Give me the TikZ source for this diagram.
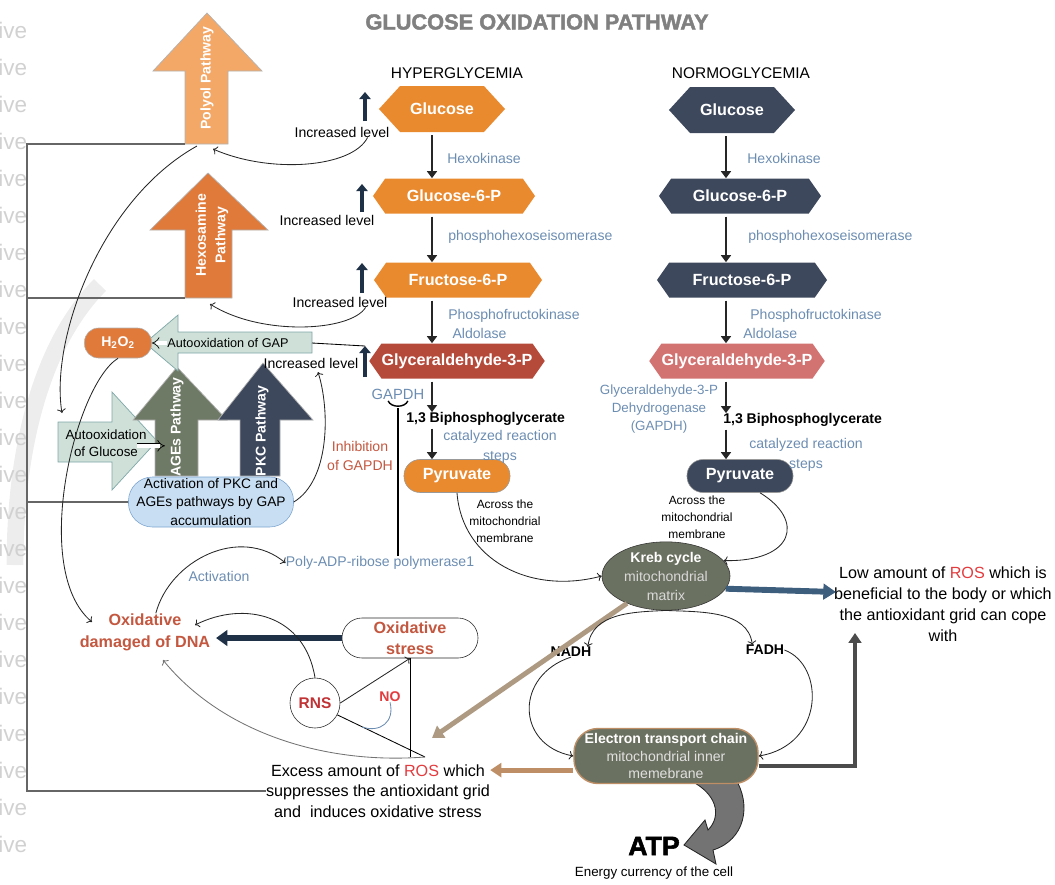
\documentclass[tikz,border=0pt]{standalone}
\usepackage{fontspec}
\setmainfont{Liberation Sans}
\newfontfamily\heavyfont[FakeBold=2]{Liberation Sans Bold}
\usetikzlibrary{shapes.geometric,shapes.symbols,arrows.meta,positioning}
\definecolor{hyorange}{HTML}{E98A2F}
\definecolor{hyred}{HTML}{B54A3B}
\definecolor{noslate}{HTML}{3D485C}
\definecolor{nopink}{HTML}{D27271}
\definecolor{enzblue}{HTML}{6C8DB2}
\definecolor{dnared}{HTML}{C4573F}
\definecolor{rosred}{HTML}{E33B3E}
\definecolor{polyolc}{HTML}{F3A867}
\definecolor{hexoc}{HTML}{E07A3B}
\definecolor{agesc}{HTML}{6E7A66}
\definecolor{autoc}{HTML}{CEE0D7}
\definecolor{autoline}{HTML}{7FA7A8}
\definecolor{actblue}{HTML}{C8DEF3}
\definecolor{actline}{HTML}{7BA3CF}
\definecolor{mitoc}{HTML}{6B7160}
\definecolor{navyc}{HTML}{1E3146}
\definecolor{steelc}{HTML}{3E5E7E}
\definecolor{tanc}{HTML}{BE8F66}
\definecolor{taupec}{HTML}{AE9A82}
\begin{document}
\begin{tikzpicture}[x=0.025cm,y=-0.025cm,
font=\fontsize{10}{12}\selectfont,
% metabolite boxes
hyper/.style={
signal,signal to=west and east,signal pointer angle=110,
fill=hyorange,text=white,inner sep=0pt,
minimum width=4.05cm,minimum height=0.875cm,
font=\fontsize{11.5}{13}\selectfont\bfseries
},
normo/.style={hyper,fill=noslate},
hexbox/.style={minimum width=3.15cm,minimum height=1.15cm,signal pointer angle=95},
pyrbox/.style={
rectangle,rounded corners=0.4cm,draw=black!40,inner sep=0pt,
minimum width=2.65cm,minimum height=0.825cm,text=white,
font=\fontsize{11.5}{13}\selectfont\bfseries
},
enzyme/.style={text=enzblue,inner sep=0pt},
bold/.style={font=\fontsize{10}{12}\selectfont\bfseries,inner sep=0pt},
flow/.style={line width=2pt,black!85,-{Triangle[width=7pt,length=5pt]},shorten <=2pt},
incr/.style={line width=2.6pt,navyc,-{Triangle[width=8pt,length=5pt]}},
link/.style={->,line width=0.6pt,black!85},
bus/.style={line width=1pt,black!60},
blockarrow/.style={draw=black!30,line width=0.5pt},
pathtext/.style={rotate=90,text=white,align=center,inner sep=0pt,
font=\fontsize{10}{14}\selectfont\bfseries},
whitearrow/.style={double=white,double distance=2.4pt,line width=0.5pt,-{Implies}},
bignote/.style={align=center,inner sep=0pt,font=\fontsize{11.5}{15}\selectfont}
]
\useasboundingbox (0,0) rectangle (1055,884);
% watermark
\draw[black!7,line width=12pt] (100,285) .. controls (45,340) and (15,440) .. (15,565);
\foreach \wy in {30,67,...,880}
  \node[anchor=west,text=black!18,inner sep=0pt,font=\fontsize{16}{16}\selectfont] (wm\wy) at (-2,\wy) {ive};

\node[font=\fontsize{15.5}{18}\selectfont\heavyfont,text=black!50] (title) at (537,22) {GLUCOSE OXIDATION PATHWAY};
\node[font=\fontsize{11}{13}\selectfont] (hyhead) at (457,73) {HYPERGLYCEMIA};
\node[font=\fontsize{11}{13}\selectfont] (nohead) at (741,73) {NORMOGLYCEMIA};

% hyperglycemia column
\coordinate (hcol) at (432,0);
\node[hyper,hexbox] (hglc) at (442,109) {Glucose};
\node[hyper] (hg6p) at (454,196) {Glucose-6-P};
\node[hyper,minimum width=4.2cm] (hf6p) at (458,280) {Fructose-6-P};
\node[hyper,fill=hyred,minimum width=4.2cm] (hgap) at (457,361) {Glyceraldehyde-3-P};
\node[bold,anchor=west] (hbpg) at (406,419) {1,3 Biphosphoglycerate};
\node[pyrbox,fill=hyorange] (hpyr) at (457,476) {Pyruvate};
\draw[flow] (hglc.south -| hcol) -- (hg6p.north -| hcol);
\draw[flow] (hg6p.south -| hcol) -- (hf6p.north -| hcol);
\draw[flow] (hf6p.south -| hcol) -- (hgap.north -| hcol);
\draw[flow] (hgap.south -| hcol) -- (hbpg.north -| hcol);
\draw[flow] (hbpg.south -| hcol) -- (hpyr.north -| hcol);
\node[enzyme,anchor=west] (hhex) at (447,158) {Hexokinase};
\node[enzyme,anchor=west] (hphi) at (448,237) {phosphohexoseisomerase};
\node[enzyme,anchor=west,align=left,font=\fontsize{10}{14}\selectfont] (hpfk) at (448,324) {Phosphofructokinase\\\hspace{3pt}Aldolase};
\node[enzyme,font=\fontsize{10.5}{12}\selectfont] (hgapdh) at (398,394) {GAPDH};
\node[enzyme,align=center,font=\fontsize{10}{14}\selectfont] (hcat) at (500,447) {catalyzed reaction\\steps};
\node[align=center,inner sep=0pt,font=\fontsize{8.5}{12}\selectfont] (hacross) at (505,521) {Across the\\mitochondrial\\membrane};

% normoglycemia column
\coordinate (ncol) at (726,0);
\node[normo,hexbox] (nglc) at (732,110) {Glucose};
\node[normo] (ng6p) at (740,196) {Glucose-6-P};
\node[normo,minimum width=4.25cm] (nf6p) at (742,280) {Fructose-6-P};
\node[normo,fill=nopink,minimum width=4.15cm] (ngap) at (737,361) {Glyceraldehyde-3-P};
\node[bold,anchor=west] (nbpg) at (723,420) {1,3 Biphosphoglycerate};
\node[pyrbox,fill=noslate] (npyr) at (740,476) {Pyruvate};
\draw[flow] (nglc.south -| ncol) -- (ng6p.north -| ncol);
\draw[flow] (ng6p.south -| ncol) -- (nf6p.north -| ncol);
\draw[flow] (nf6p.south -| ncol) -- (ngap.north -| ncol);
\draw[flow] (ngap.south -| ncol) -- (nbpg.north -| ncol);
\draw[flow] (nbpg.south -| ncol) -- (npyr.north -| ncol);
\node[enzyme,anchor=west] (nhex) at (747,158) {Hexokinase};
\node[enzyme,anchor=west] (nphi) at (748,237) {phosphohexoseisomerase};
\node[enzyme,anchor=west,align=left,font=\fontsize{10}{14}\selectfont] (npfk) at (743,324) {\hspace{5pt}Phosphofructokinase\\Aldolase};
\node[enzyme,align=center,font=\fontsize{9.5}{13}\selectfont] (ngapdh) at (659,409) {Glyceraldehyde-3-P\\Dehydrogenase\\(GAPDH)};
\node[enzyme,align=center,font=\fontsize{10}{14}\selectfont] (ncat) at (806,455) {catalyzed reaction\\steps};
\node[align=center,inner sep=0pt,font=\fontsize{8.5}{12}\selectfont] (nacross) at (697,517) {Across the\\mitochondrial\\membrane};

% side pathways
\filldraw[blockarrow,fill=polyolc] (185,144) coordinate (polyolbase) -- (185,71) -- (153,71) -- (207,13) -- (262,71) -- (228,71) -- (228,144) -- cycle;
\node[pathtext] (polyol) at (207,78) {Polyol Pathway};
\filldraw[blockarrow,fill=hexoc] (185,298) coordinate (hexobase) -- (185,230) -- (150,230) -- (208,173) -- (268,230) -- (232,230) -- (232,298) -- cycle;
\node[pathtext] (hexo) at (212,235) {Hexosamine\\Pathway};
\filldraw[blockarrow,draw=autoline,fill=autoc] (58,422) -- (112,422) -- (112,392) -- (157,441) -- (112,490) -- (112,462) -- (58,462) -- cycle;
\filldraw[blockarrow,fill=agesc] (155,476) -- (155,420) -- (133,420) -- (177,367) -- (227,420) -- (198,420) -- (198,476) -- cycle;
\node[pathtext] (ages) at (177,427) {AGEs Pathway};
\filldraw[blockarrow,fill=noslate] (240,476) -- (240,420) -- (218,420) -- (263,363) -- (313,420) -- (280,420) -- (280,476) -- cycle;
\node[pathtext] (pkc) at (262,431) {PKC Pathway};
\filldraw[blockarrow,draw=autoline,fill=autoc] (312,332) -- (178,332) -- (178,315) -- (145,343) -- (178,371) -- (178,353) -- (312,353) coordinate (autogapend) -- cycle;
\node[font=\fontsize{9}{11}\selectfont,inner sep=0pt] (autogap) at (228,343) {Autooxidation of GAP};
\node[align=center,inner sep=0pt,font=\fontsize{9.5}{12}\selectfont] (autoglc) at (106,443) {Autooxidation\\of Glucose};
\draw[whitearrow] ([xshift=-7pt,yshift=-2pt]autoglc.east) -- ++(20pt,0);
\node[rectangle,rounded corners=0.35cm,fill=hexoc,draw=black!30,minimum width=1.675cm,minimum height=0.75cm,inner sep=0pt,text=white,font=\fontsize{10}{12}\selectfont\bfseries] (h2o2) at (118,343) {H\textsubscript{2}O\textsubscript{2}};
\draw[whitearrow] (autogap.west) -- (h2o2.east);
\node[rectangle,rounded corners=0.6cm,draw=actline,fill=actblue,minimum width=4.125cm,minimum height=1.25cm,inner sep=0pt,align=center,font=\fontsize{9.8}{13}\selectfont] (act) at (211,502) {Activation of PKC and\\AGEs pathways by GAP\\accumulation};

% increased levels
\node[inner sep=0pt] (inc1lbl) at (342,132) {Increased level};
\node[inner sep=0pt] (inc2lbl) at (327,220) {Increased level};
\node[inner sep=0pt] (inc3lbl) at (340,302) {Increased level};
\node[inner sep=0pt] (inc4lbl) at (311,363) {Increased level};
\draw[incr] (365,121) -- (365,92);
\draw[incr] (362,212) -- (362,184);
\draw[incr] (362,293) -- (362,263);
\draw[incr] (365,377) -- (365,346) coordinate (inc4t);

% damage side
\node[text=dnared,align=center,font=\fontsize{10}{14}\selectfont] (inhib) at (360,456) {Inhibition\\of GAPDH};
\node[enzyme] (polyadp) at (380,563) {Poly-ADP-ribose polymerase1};
\node[enzyme] (actlbl) at (219,576) {Activation};
\node[text=dnared,align=center,inner sep=0pt,font=\fontsize{11.5}{15.5}\selectfont\bfseries] (dna) at (145,632) {Oxidative\\damaged of DNA};
\node[rectangle,rounded corners=0.5cm,draw=black!85,fill=white,minimum width=3.4cm,minimum height=1cm,inner sep=0pt,text=dnared,align=center,font=\fontsize{11.5}{15}\selectfont\bfseries] (oxs) at (410,638) {Oxidative\\stress};
\node[circle,draw=black!85,fill=white,minimum size=1.25cm,inner sep=0pt,text=rosred!85!black,font=\fontsize{11}{13}\selectfont\bfseries] (rns) at (315,703) {RNS};
\node[text=rosred,inner sep=0pt,font=\fontsize{10}{12}\selectfont\bfseries] (no) at (390,697) {NO};
\node[bignote,font=\fontsize{11.5}{14.5}\selectfont] (excessros) at (378,791) {Excess amount of \textcolor{rosred}{ROS} which\\suppresses the antioxidant grid\\and\ \ induces oxidative stress};

% mitochondrion
\filldraw[fill=black!55,draw=black!85,line width=0.6pt] (685,778) -- (735,778) .. controls (752,805) and (745,840) .. (713,850) -- (716,864) -- (684,845) -- (705,820) -- (708,830) .. controls (722,816) and (718,792) .. (685,778) -- cycle;
\node[ellipse,draw=black!80,fill=mitoc,minimum width=3.2cm,minimum height=1.6cm,inner sep=0pt,align=center,text=white!85!black,font=\fontsize{10}{13.5}\selectfont] (kreb) at (666,576) {\textcolor{white}{\textbf{Kreb cycle}}\\mitochondrial\\matrix};
\node[rectangle,rounded corners=0.6cm,draw=tanc,line width=1pt,fill=mitoc,minimum width=4.6cm,minimum height=1.375cm,inner sep=0pt,align=center,text=white!88!black,font=\fontsize{10}{12.4}\selectfont] (etc) at (666,756) {\textcolor{white}{\textbf{Electron transport chain}}\\mitochondrial inner\\memebrane};
\node[bold] (nadh) at (571,652) {NADH};
\node[bold] (fadh) at (765,650) {FADH};
\node[inner sep=0pt,font=\fontsize{19}{22}\selectfont\heavyfont] (atp) at (654,846) {ATP};
\node[inner sep=0pt,font=\fontsize{9.5}{11}\selectfont] (energy) at (654,873) {Energy currency of the cell};
\node[bignote] (lowros) at (943,604) {Low amount of \textcolor{rosred}{ROS} which is\\beneficial to the body or which\\the antioxidant grid can cope\\with};

% named free ends
\coordinate (busx) at (27,0);
\coordinate (polyolin) at (213,149);
\coordinate (polyolout) at (197,146);
\coordinate (hexoin) at (210,304);
\coordinate (autoglcin) at (62,413);
\coordinate (dnain) at (92,622);
\coordinate (dnaR) at (195,625);
\coordinate (dnaB) at (163,660);
\coordinate (inc4in) at (318,372);
\coordinate (rostop) at (425,757);
\coordinate (noend) at (362,727);
\coordinate (rosdiag) at (432,738);
\coordinate (lowin) at (855,633);
\coordinate (lowroswest) at (836,592);

% bus on the left
\draw[bus] (polyolbase) -- (polyolbase -| busx) -- (busx |- excessros.west) -- (excessros.west);
\draw[bus] (hexobase) -- (hexobase -| busx);
\draw[bus] (act.west) -- (act.west -| busx);

% connectors
\draw[link] (inc1lbl.-12) .. controls (352,168) and (270,174) .. (polyolin);
\draw[link] (inc3lbl.-12) .. controls (350,332) and (260,336) .. (hexoin);
\draw[link] (polyolout) .. controls (100,200) and (50,340) .. (autoglcin);
\draw[link] (h2o2.south) .. controls (75,385) and (30,570) .. (dnain);
\draw[link] (act.east) .. controls (330,480) and (330,410) .. (inc4in);
\draw[line width=0.6pt] (autogapend |- autogap) -- (inc4t);
\draw[line width=1.5pt] (polyadp.north -| hgapdh) -- ([yshift=-6pt]hgapdh.south);
\draw[line width=1pt] ([xshift=-7pt,yshift=-1pt]hgapdh.south) .. controls +(2pt,-5pt) and +(-2pt,-5pt) .. ([xshift=7pt,yshift=-1pt]hgapdh.south);
\draw[link] (dna.60) .. controls (170,560) and (240,525) .. (polyadp.west);
\draw[line width=4.2pt,navyc,-{Triangle[width=11pt,length=8pt]},shorten >=4pt] (oxs.west) -- (oxs.west -| dna.east);
\draw[link] (rns.north) .. controls (305,615) and (245,600) .. (dnaR);
\path (rns.east) edge[link] (oxs.south);
\draw[line width=0.6pt] (rns.-28) -- (rostop);
\draw[line width=0.6pt] (oxs.south) -- (oxs.south |- rostop);
\draw[link,black!55] (rostop) .. controls (320,765) and (220,730) .. (dnaB);
\draw[enzblue,line width=0.6pt] (no.south) .. controls (395,722) and (380,733) .. (noend);
\draw[link] (hpyr.south) .. controls (462,560) and (530,595) .. (kreb.west);
\draw[link] (npyr.-40) .. controls (805,520) and (795,562) .. (kreb.15);
\draw[line width=3.5pt,taupec,-{Triangle[width=10pt,length=8pt]}] (kreb.215) -- (rosdiag);
\draw[line width=4.2pt,steelc,-{Triangle[width=11pt,length=9pt]}] (kreb.-12) -- (lowroswest);
\draw[link] (kreb.south) .. controls (635,612) and (592,612) .. ([xshift=12pt]nadh.north);
\draw[link] (kreb.south) .. controls (700,612) and (748,610) .. ([xshift=-9pt]fadh.north);
\draw[link] (nadh.south) .. controls (515,675) and (515,745) .. (etc.west);
\draw[link] (fadh.east) .. controls (825,665) and (825,745) .. (etc.east);
\draw[line width=3.5pt,tanc,-{Triangle[width=10pt,length=8pt]}] ([yshift=-10pt]etc.west) -- ([yshift=-10pt]etc.west -| excessros.east);
\draw[line width=3pt,black!70,-{Triangle[width=9pt,length=7pt]}] ([yshift=-7pt]etc.east) -| (lowin);
\end{tikzpicture}
\end{document}
